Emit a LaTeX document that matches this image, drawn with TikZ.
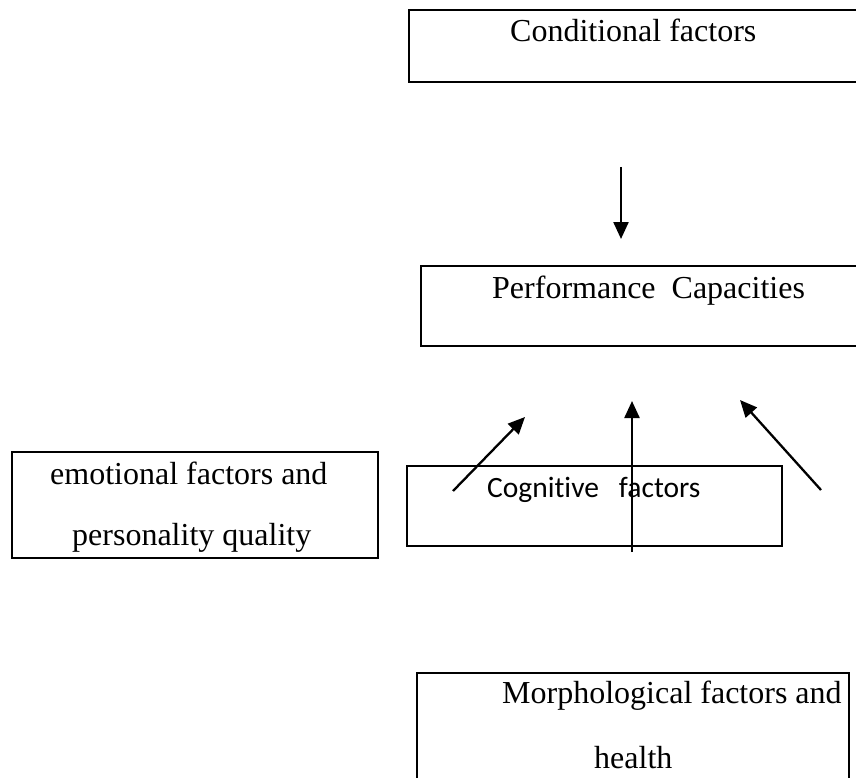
\documentclass[tikz,border=0pt]{standalone}
\usepackage{fontspec}
\setmainfont{Liberation Serif}
\newfontfamily\calib[Ligatures={NoCommon}]{Carlito}
\usetikzlibrary{arrows.meta}
\begin{document}
\begin{tikzpicture}[x=1pt,y=-1pt,
  boxn/.style={draw=black,line width=2.5pt,inner sep=0pt,rectangle},
  lbl/.style={inner sep=0pt,anchor=base west,font=\fontsize{32}{38}\selectfont},
  clbl/.style={inner sep=0pt,anchor=base west,font=\calib\fontsize{29.5}{34}\selectfont},
  arr/.style={line width=2.3pt,-{Triangle[length=17pt,width=15pt]}}]
\path[clip] (0,0) rectangle (856,778);
\fill[white] (0,0) rectangle (856,778);
% boxes
\node[boxn,minimum width=470pt,minimum height=72pt] (cond) at (644,46) {};
\node[boxn,minimum width=460pt,minimum height=80pt] (perf) at (651,306) {};
\node[boxn,minimum width=366pt,minimum height=106pt] (emo) at (195,505) {};
\node[boxn,minimum width=375pt,minimum height=80pt] (cog) at (594.5,506) {};
\node[boxn,minimum width=432pt,minimum height=130pt] (morph) at (633,738) {};
% texts
\node[lbl] (tcond) at (510,42) {Conditional factors};
\node[lbl] (tperf) at (492,298) {Performance\ \ Capacities};
\node[lbl] (temo1) at (50,484) {emotional factors and};
\node[lbl] (temo2) at (72,545) {personality quality};
\node[clbl] (tcog) at (487,497) {Cognitive\ \ \ factors};
\node[lbl] (tmor1) at (502,703) {Morphological factors and};
\node[lbl] (tmor2) at (594,768) {health};
% arrow coordinates
\coordinate (a1s) at (621,167);
\coordinate (a1e) at (621,239);
\coordinate (a2s) at (453,491);
\coordinate (a2e) at (525,417);
\coordinate (a3s) at (632,552);
\coordinate (a3e) at (632,401);
\coordinate (a4s) at (821,490);
\coordinate (a4e) at (740,400);
\draw[arr] (a1s) -- (a1e);
\draw[arr] (a2s) -- (a2e);
\draw[arr] (a3s) -- (a3e);
\draw[arr] (a4s) -- (a4e);
\end{tikzpicture}
\end{document}
